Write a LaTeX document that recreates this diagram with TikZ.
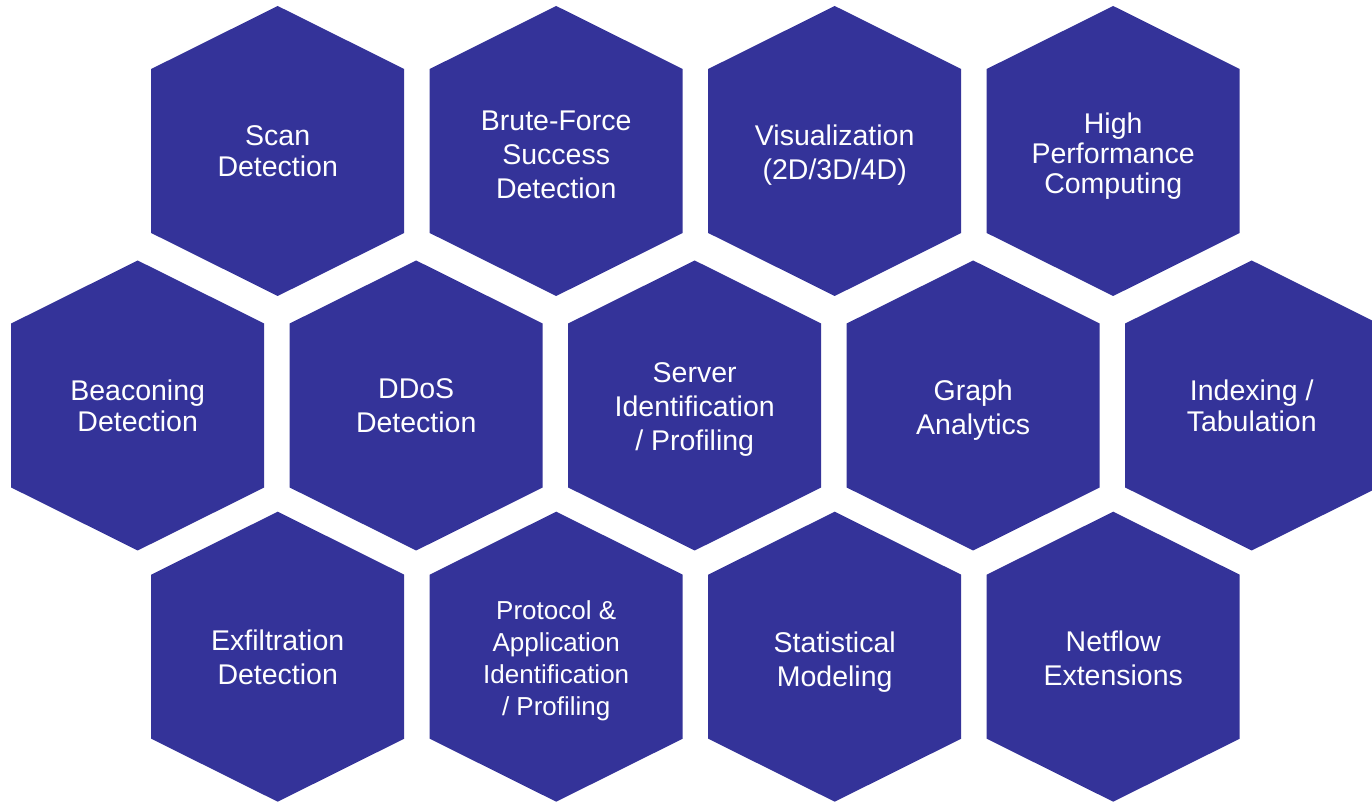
\documentclass[tikz,border=0pt]{standalone}
\usepackage{fontspec}
\setmainfont{Liberation Sans}
\usepackage{tikz}
\usetikzlibrary{positioning, backgrounds}
\definecolor{hexblue}{RGB}{52,51,153}
\tikzstyle{hexcell}=[minimum width=253pt,minimum height=290pt,inner sep=0pt,outer sep=0pt,
  text=white,align=center,font=\fontsize{28.5pt}{34pt}\selectfont]
\tikzstyle{tightcell}=[font=\fontsize{28.5pt}{31pt}\selectfont]
\tikzstyle{smallcell}=[font=\fontsize{26pt}{32pt}\selectfont]
% strut on the first line, pushes the text block down by #1
\newcommand{\hexdrop}[1]{\rule{0pt}{\dimexpr\fontcharht\font`\H+#1*2\relax}}

\begin{document}
\begin{tikzpicture}[x=1pt,y=1pt]
        \useasboundingbox (0,0) rectangle (1372,803);
        \clip (0,0) rectangle (1372,803);

        % top row
        \node[hexcell,tightcell] (scan) at (277.7,652) {Scan\\Detection};
        \node[hexcell, right =25.5pt of scan] (bruteforce) {\hexdrop{3.5pt}Brute-Force\\Success\\Detection};
        \node[hexcell, right =25.5pt of bruteforce] (visual) {\hexdrop{5pt}Visualization\\(2D/3D/4D)};
        \node[hexcell,font=\fontsize{28.5pt}{30pt}\selectfont, right =25.5pt of visual] (hpc) {\hexdrop{6pt}High\\Performance\\Computing};

        % middle row
        \node[hexcell,tightcell] (beacon) at (137.7,397.5) {Beaconing\\Detection};
        \node[hexcell, right =25.5pt of beacon] (ddos) {DDoS\\Detection};
        \node[hexcell, right =25.5pt of ddos] (server) {\hexdrop{4.5pt}Server\\Identification\\/ Profiling};
        \node[hexcell, right =25.5pt of server] (graph) {\hexdrop{5pt}Graph\\Analytics};
        \node[hexcell,tightcell, right =25.5pt of graph] (indexing) {Indexing /\\Tabulation};

        % bottom row
        \node[hexcell] (exfil) at (277.7,146.3) {\hexdrop{1.5pt}Exfiltration\\Detection};
        \node[hexcell,smallcell, right =25.5pt of exfil] (protocol) {\hexdrop{5pt}Protocol \&\\Application\\Identification\\/ Profiling};
        \node[hexcell, right =25.5pt of protocol] (stats) {\hexdrop{5.5pt}Statistical\\Modeling};
        \node[hexcell, right =25.5pt of stats] (netflow) {\hexdrop{2.5pt}Netflow\\Extensions};

        \begin{scope}[on background layer]
            \foreach \cell in {scan,bruteforce,visual,hpc,beacon,ddos,server,graph,indexing,exfil,protocol,stats,netflow}
                \fill[hexblue] (\cell.north) -- ([yshift=-63pt]\cell.north east)
                    -- ([yshift=63pt]\cell.south east) -- (\cell.south)
                    -- ([yshift=63pt]\cell.south west) -- ([yshift=-63pt]\cell.north west) -- cycle;
        \end{scope}
    \end{tikzpicture}
\end{document}
